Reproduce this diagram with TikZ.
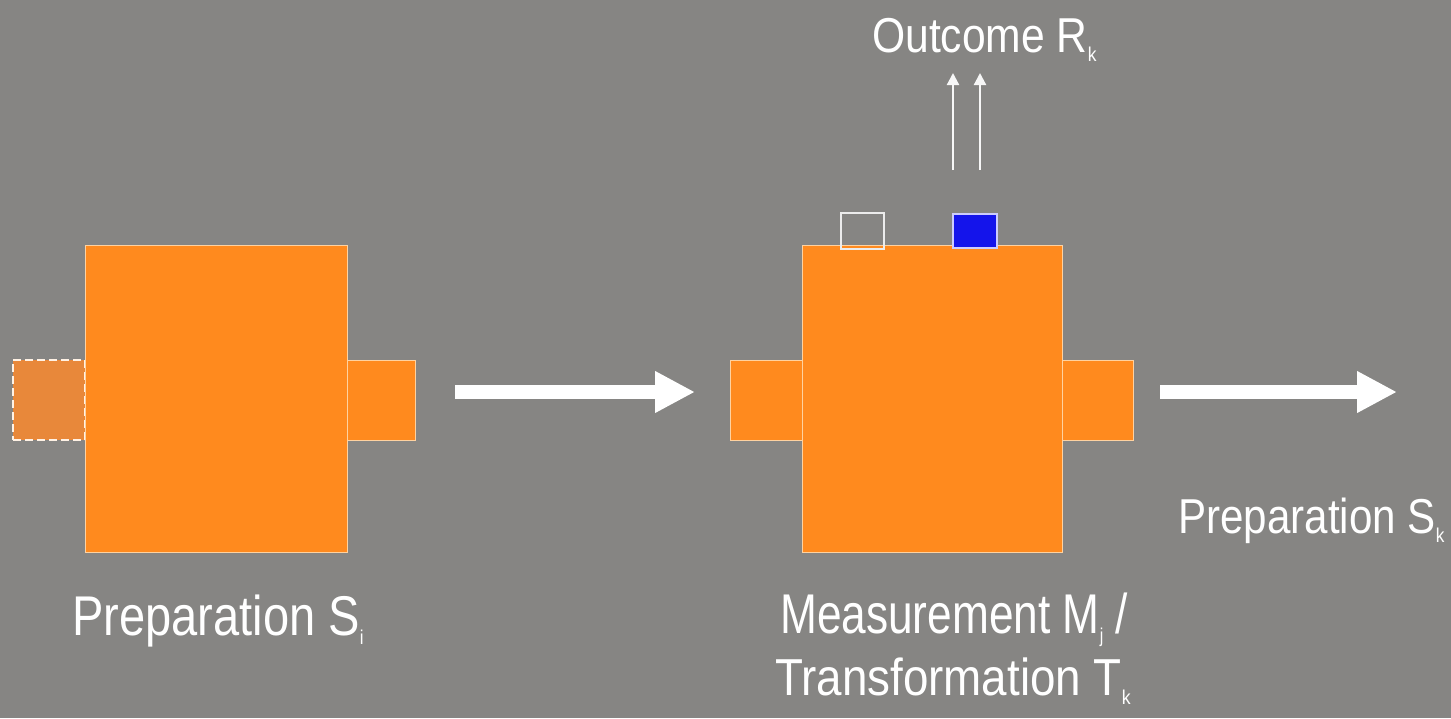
\documentclass[tikz,border=0pt]{standalone}
\usepackage{fontspec}
\setmainfont{Liberation Sans}
\usetikzlibrary{arrows.meta}
\definecolor{bg}{RGB}{134,133,131}
\definecolor{org}{RGB}{255,138,30}
\definecolor{orgd}{RGB}{232,136,58}
\definecolor{edgec}{RGB}{255,210,160}
\definecolor{qblue}{RGB}{20,20,235}
\newcommand{\lbl}[3]{\scalebox{#1}[1]{\fontsize{#2}{#2}\selectfont #3}}
\newcommand{\sbs}[1]{\raisebox{-9pt}{\fontsize{20pt}{20pt}\selectfont #1}}
\begin{document}
\begin{tikzpicture}[x=1pt,y=-1pt,
  box/.style={fill=org, draw=edgec, line width=0.8pt, inner sep=0pt, outer sep=0pt, anchor=north west},
  txt/.style={text=white, inner sep=0pt, anchor=base west},
  bigarrow/.style={white, line width=14pt, -{Triangle[length=40pt,width=39pt]}},
  thinarrow/.style={white!94!gray, line width=2.2pt, -{Triangle[length=12pt,width=12pt]}}]
\fill[bg] (0,0) rectangle (1451,718);
\useasboundingbox (0,0) rectangle (1451,718);
% left device
\node[box, fill=orgd, draw=white!90!orange, dash pattern=on 8pt off 4pt, line width=1.5pt,
      minimum width=72pt, minimum height=80pt] (prepin) at (13,360) {};
\node[box, minimum width=262pt, minimum height=307pt] (prep) at (85,245) {};
\node[box, minimum width=68pt, minimum height=80pt] (prepout) at (347,360) {};
% middle device
\node[box, minimum width=72pt, minimum height=80pt] (measin) at (730,360) {};
\node[box, minimum width=260pt, minimum height=307pt] (meas) at (802,245) {};
\node[box, minimum width=71pt, minimum height=80pt] (measout) at (1062,360) {};
\node[box, fill=none, draw=white!85!gray, line width=1.5pt, minimum width=43pt, minimum height=36pt] (sq1) at (841,213) {};
\node[box, fill=qblue, draw=white!80!blue, line width=1.2pt, minimum width=44pt, minimum height=34pt] (sq2) at (953,214) {};
% arrows
\coordinate (endk) at (1397,392);
\coordinate (u1s) at (953,170);
\coordinate (u1e) at (953,73);
\coordinate (u2s) at (980,170);
\coordinate (u2e) at (980,73);
\draw[bigarrow, shorten <=40pt, shorten >=35pt] ([yshift=8pt]prepout.east) -- ([yshift=8pt]measin.west);
\draw[bigarrow, shorten <=27pt] ([yshift=8pt]measout.east) -- (endk);
\draw[thinarrow] (u1s) -- (u1e);
\draw[thinarrow] (u2s) -- (u2e);
% labels
\node[txt] (outc) at (872,52) {\lbl{0.87}{49pt}{Outcome R\sbs{k}}};
\node[txt] (prepi) at (72,635) {\lbl{0.84}{56pt}{Preparation S\sbs{i}}};
\node[txt] (measl) at (780,633) {\lbl{0.79}{56pt}{Measurement M\sbs{j} /}};
\node[txt] (trans) at (775,695) {\lbl{0.88}{52pt}{Transformation T\sbs{k}}};
\node[txt] (prepk) at (1178,533) {\lbl{0.86}{49pt}{Preparation S\sbs{k}}};
\end{tikzpicture}
\end{document}
